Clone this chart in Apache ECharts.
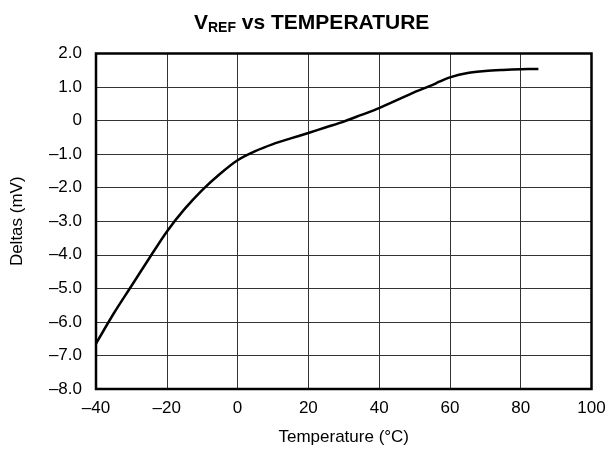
<!DOCTYPE html>
<html>
<head>
<meta charset="utf-8">
<script src="https://cdn.jsdelivr.net/npm/echarts@6/dist/echarts.min.js"></script>
<style>
  html, body { margin: 0; padding: 0; background: #fff; }
  #chart { width: 611px; height: 451px; }
</style>
</head>
<body>
<div id="chart"></div>
<script>
// temperature (°C) and delta (mV)
var temps  = [-40, -35, -30, -25, -20, -15, -10, -5, 0, 5, 10, 15, 20, 25, 30, 35, 40, 45, 50, 55, 57, 60, 65, 70, 75, 80, 85];
var deltas = [-6.65, -5.75, -4.93, -4.11, -3.31, -2.64, -2.07, -1.59, -1.18, -0.91, -0.7, -0.53, -0.37, -0.2, -0.03, 0.17, 0.37, 0.61, 0.85, 1.06, 1.16, 1.29, 1.42, 1.48, 1.51, 1.53, 1.54];

var font = 'Liberation Sans, Arial, Helvetica, sans-serif';
function dash(s) { return s.replace('-', '\u2013'); }

var chart = echarts.init(document.getElementById('chart'));
chart.setOption({
  animation: false,
  title: {
    text: '{v|V}{sub|REF}{v| vs TEMPERATURE}',
    left: 189,
    top: 6,
    textStyle: {
      rich: {
        v: { fontFamily: font, fontWeight: 'bold', fontSize: 21, color: '#000' },
        sub: { fontFamily: font, fontWeight: 'bold', fontSize: 14, color: '#000', padding: [10, 0, 0, 0] }
      }
    }
  },
  grid: { left: 96, right: 19.5, top: 53.5, bottom: 62 },
  xAxis: {
    type: 'value',
    min: -40, max: 100, interval: 20,
    name: 'Temperature (°C)',
    nameLocation: 'middle',
    nameGap: 40,
    nameTextStyle: { fontFamily: font, fontSize: 17, color: '#000' },
    axisLine: { show: false },
    axisTick: { show: false },
    axisLabel: { fontFamily: font, fontSize: 17, color: '#000', margin: 11,
      formatter: function (v) { return dash(String(v)); } },
    splitLine: { show: true, lineStyle: { color: '#333', width: 1 } }
  },
  yAxis: {
    type: 'value',
    min: -8, max: 2, interval: 1,
    name: 'Deltas (mV)',
    nameLocation: 'middle',
    nameGap: 70,
    nameTextStyle: { fontFamily: font, fontSize: 17, color: '#000' },
    axisLine: { show: false },
    axisTick: { show: false },
    axisLabel: { fontFamily: font, fontSize: 17, color: '#000', margin: 14,
      formatter: function (v) { return v === 0 ? '0' : dash(v.toFixed(1)); } },
    splitLine: { show: true, lineStyle: { color: '#333', width: 1 } }
  },
  graphic: [{
    type: 'rect',
    shape: { x: 96, y: 53.5, width: 495.5, height: 335.5 },
    style: { fill: 'none', stroke: '#000', lineWidth: 2.5 },
    z: 100
  }],
  series: [{
    type: 'line',
    data: temps.map(function (t, i) { return [t, deltas[i]]; }),
    smooth: 0.3,
    showSymbol: false,
    lineStyle: { color: '#000', width: 2.5 }
  }]
});
</script>
</body>
</html>
